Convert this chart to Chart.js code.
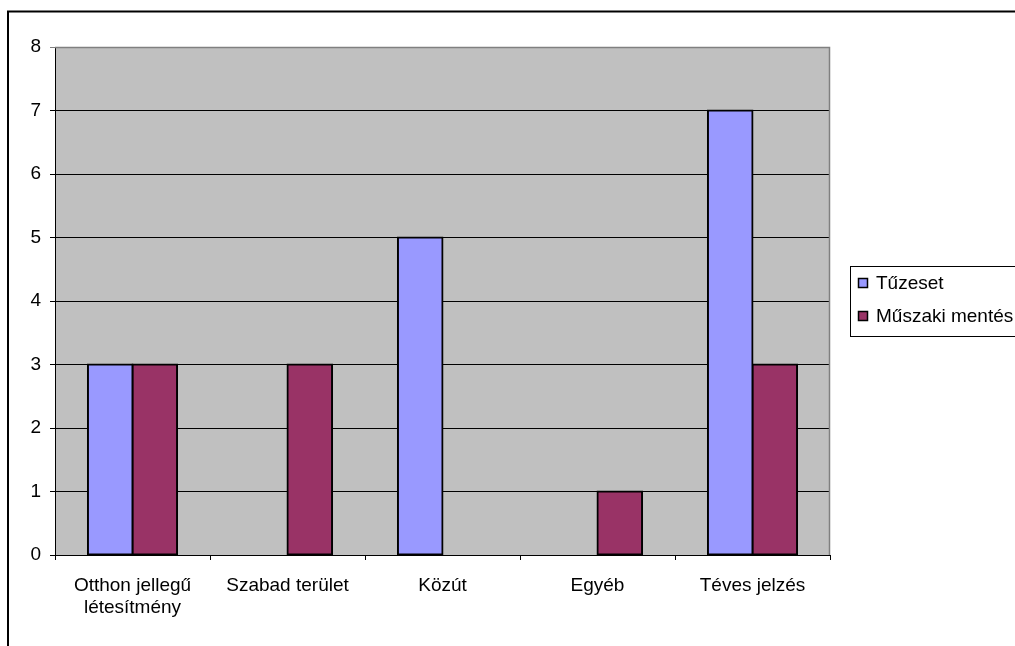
<!DOCTYPE html>
<html>
<head>
<meta charset="utf-8">
<script src="https://cdn.jsdelivr.net/npm/chart.js@4"></script>
<style>
  html, body { margin: 0; padding: 0; background: #fff; }
  #wrap { width: 1015px; height: 646px; position: relative; }
</style>
</head>
<body>
<div id="wrap"><canvas id="c" width="1015" height="646"></canvas></div>
<script>
const categories = [["Otthon jellegű", "létesítmény"], "Szabad terület", "Közút", "Egyéb", "Téves jelzés"];
const seriesNames = ["Tűzeset", "Műszaki mentés"];
const tuzeset = [3, 0, 5, 0, 7];
const muszakiMentes = [3, 3, 0, 1, 3];
const yTicks = [0, 1, 2, 3, 4, 5, 6, 7, 8];
const colors = ["#9999FF", "#993366"];

Chart.defaults.font.family = "'Liberation Sans', Arial, sans-serif";
Chart.defaults.font.size = 19;
Chart.defaults.color = "#000";

const framePlugin = {
  id: 'frame',
  beforeDraw(chart) {
    const { ctx, chartArea: a } = chart;
    ctx.save();
    ctx.fillStyle = '#fff';
    ctx.fillRect(0, 0, chart.width, chart.height);
    ctx.fillStyle = '#C0C0C0';
    ctx.fillRect(a.left, a.top, a.right - a.left, a.bottom - a.top);
    ctx.strokeStyle = '#000';
    ctx.lineWidth = 2;
    ctx.beginPath();
    ctx.moveTo(8, chart.height + 2);
    ctx.lineTo(8, 11.5);
    ctx.lineTo(chart.width + 2, 11.5);
    ctx.stroke();
    ctx.restore();
  },
  afterDraw(chart) {
    const { ctx, chartArea: a } = chart;
    ctx.save();
    ctx.strokeStyle = '#808080';
    ctx.lineWidth = 1.5;
    ctx.beginPath();
    ctx.moveTo(a.left, a.top + 0.5);
    ctx.lineTo(a.right - 0.5, a.top + 0.5);
    ctx.lineTo(a.right - 0.5, a.bottom);
    ctx.stroke();
    const lx = 850, ly = 266, lw = 170, lh = 70;
    ctx.fillStyle = '#fff';
    ctx.fillRect(lx, ly, lw, lh);
    ctx.strokeStyle = '#000';
    ctx.lineWidth = 1;
    ctx.strokeRect(lx + 0.5, ly + 0.5, lw, lh);
    ctx.font = "19px 'Liberation Sans', Arial, sans-serif";
    ctx.textBaseline = 'middle';
    ctx.textAlign = 'left';
    chart.data.datasets.forEach((ds, i) => {
      const cy = 283 + i * 33;
      ctx.fillStyle = ds.backgroundColor;
      ctx.fillRect(858, cy - 5, 10, 10);
      ctx.strokeStyle = '#000';
      ctx.lineWidth = 1.5;
      ctx.strokeRect(858.5, cy - 4.5, 9, 9);
      ctx.fillStyle = '#000';
      ctx.fillText(ds.label, 876, cy + 1);
    });
    ctx.restore();
  }
};

new Chart(document.getElementById('c'), {
  type: 'bar',
  data: {
    labels: categories,
    datasets: [
      { label: seriesNames[0], data: tuzeset, backgroundColor: colors[0], borderColor: '#000', borderWidth: 2, borderSkipped: false, inflateAmount: 1 },
      { label: seriesNames[1], data: muszakiMentes, backgroundColor: colors[1], borderColor: '#000', borderWidth: 2, borderSkipped: false, inflateAmount: 1 }
    ]
  },
  options: {
    responsive: false,
    animation: false,
    devicePixelRatio: 1,
    layout: { padding: { top: 47, right: 185, bottom: 0, left: 0 } },
    datasets: { bar: { categoryPercentage: 0.575, barPercentage: 1 } },
    plugins: { legend: { display: false }, tooltip: { enabled: false }, title: { display: false } },
    scales: {
      x: {
        afterFit(s) { s.height = 91; },
        grid: { offset: true, drawOnChartArea: false, drawTicks: true, tickLength: 5, color: '#000', lineWidth: 1 },
        border: { display: true, color: '#000', width: 1 },
        ticks: { padding: 14, maxRotation: 0, autoSkip: false, color: '#000' }
      },
      y: {
        min: 0, max: 8,
        afterFit(s) { s.width = 55; },
        afterBuildTicks(s) { s.ticks = yTicks.map(v => ({ value: v })); },
        grid: {
          color: c => (c.tick && c.tick.value === 8) ? '#808080' : '#000',
          lineWidth: 1, drawTicks: true, tickLength: 5
        },
        border: { display: true, color: '#000', width: 1 },
        ticks: { padding: 9, color: '#000' }
      }
    }
  },
  plugins: [framePlugin]
});
</script>
</body>
</html>
